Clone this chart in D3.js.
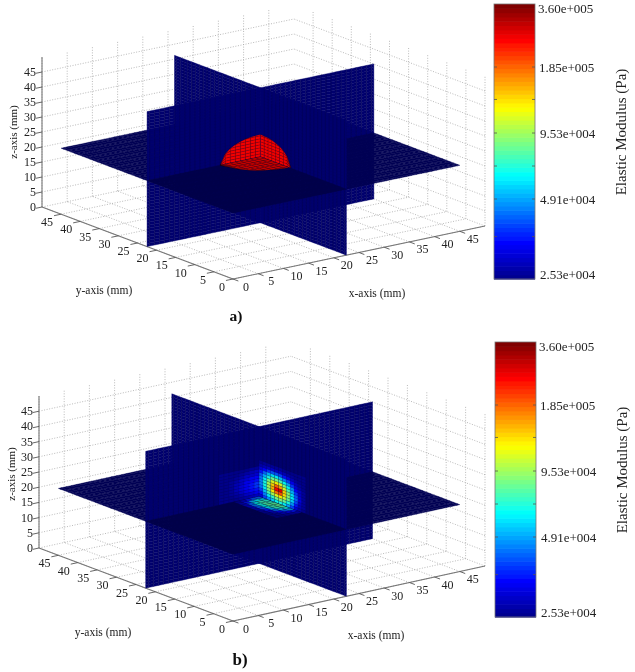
<!DOCTYPE html>
<html><head><meta charset="utf-8">
<script src="https://cdn.jsdelivr.net/npm/d3@7"></script>
<style>html,body{margin:0;padding:0;background:#fff}svg{display:block}text{font-family:"Liberation Serif",serif}</style>
</head><body><svg id="c" width="635" height="672"></svg>
<script>
// ---- chart values ----
const axisTicks = [0,5,10,15,20,25,30,35,40,45];
const axisMax = 50;
const sliceExtent = 45;          // mm
const sliceX = 22.5, sliceY = 22.5, sliceZ = 22;
const colorbarValues = [360000,185000,95300,49100,25300];
const colorbarLabels = ["3.60e+005","1.85e+005","9.53e+004","4.91e+004","2.53e+004"];
const backgroundKPa = 25.3;
const inclusionKPa = 258;
// panel a: half-height of the inclusion (mm) at each 1 mm offset from the centre
const domeProfile = [7.4,7.35,7.2,6.9,6.45,5.8,4.9,3.4,0];
// panel b: reconstructed modulus (kPa), 1 mm cells, rows top -> slice plane
const blobNearRight = [
 [26,27,27,27,27,27,26,26,26,26,26,26],
 [28,29,30,31,31,30,29,28,27,26,26,26],
 [32,36,40,44,44,42,38,33,29,27,26,26],
 [38,46,56,64,66,60,50,42,34,29,27,26],
 [44,58,74,90,94,84,70,54,40,32,28,26],
 [48,66,92,120,135,118,92,70,50,36,30,27],
 [50,72,104,150,200,170,118,84,58,40,31,27],
 [50,72,106,160,255,270,145,96,64,44,32,27],
 [48,68,98,135,190,205,140,98,66,46,33,27],
 [42,60,82,104,125,135,115,88,62,42,31,27],
 [38,50,66,80,92,96,88,72,52,38,29,27],
 [32,42,52,62,70,72,66,54,42,32,28,26]];
const blobNearLeft = [
 [27,27,26,26,26,26,26,26],
 [30,29,28,27,26,26,26,26],
 [32,31,30,28,27,26,26,26],
 [36,34,32,30,28,27,26,26],
 [38,36,34,31,29,27,26,26],
 [40,38,35,32,29,27,26,26],
 [40,38,35,32,29,27,26,26],
 [38,36,33,30,28,27,26,26],
 [34,32,30,28,27,26,26,26],
 [30,29,28,27,26,26,26,26]];
// rows: offset towards x = 0; columns: offset towards y = 0
const blobFloor = [
 [46,62,76,80,86,90,86,72,54,38,29],
 [44,68,80,84,86,84,78,62,46,34,28],
 [38,56,68,72,70,66,58,46,36,30,27],
 [30,38,46,48,46,42,37,32,29,27,26],
 [27,29,31,32,31,29,28,27,26,26,26]];

// ---- layout ----
const panels = [
 {id:"a", ox:233, oy:279, xRun:[252,-53], yRun:[-191,-72], zRise:150,
  bar:{x:494,w:41,top:4,bottom:279}, barY:[8,67,133,199,274],
  yLab:[104,291], xLab:[377,294], zLab:[13,132], tag:"a)", tagAt:[236,316], tagSize:15.5},
 {id:"b", ox:233, oy:621, xRun:[252,-55], yRun:[-194,-73], zRise:152,
  bar:{x:495,w:41,top:342,bottom:617}, barY:[346,405,471,537,612],
  yLab:[103,633], xLab:[376,636], zLab:[11,474], tag:"b)", tagAt:[240,660], tagSize:17}
];

const jet = d3.scaleLinear()
  .domain([0,0.125,0.375,0.625,0.875,1])
  .range(["#00008f","#0000ff","#00ffff","#ffff00","#ff0000","#800000"]).clamp(true);
const valueT = d3.scaleLog().domain([backgroundKPa,360]).range([0,1]).clamp(true);
const band = v => jet(Math.floor(valueT(v)*63.999)/63);
const shaded = (c,s) => d3.interpolateRgb("#000",c)(s);

const svg = d3.select("#c");
const defs = svg.append("defs");
defs.append("filter").attr("id","soft").attr("filterUnits","userSpaceOnUse").attr("x",0).attr("y",0)
  .attr("width",635).attr("height",672)
  .append("feGaussianBlur").attr("stdDeviation",0.7);
defs.append("filter").attr("id","softT").attr("filterUnits","userSpaceOnUse").attr("x",0).attr("y",0)
  .attr("width",635).attr("height",672)
  .append("feGaussianBlur").attr("stdDeviation",0.3);

panels.forEach(p => {
  const sxX = d3.scaleLinear().domain([0,axisMax]).range([0,p.xRun[0]]);
  const syX = d3.scaleLinear().domain([0,axisMax]).range([0,p.xRun[1]]);
  const sxY = d3.scaleLinear().domain([0,axisMax]).range([0,p.yRun[0]]);
  const syY = d3.scaleLinear().domain([0,axisMax]).range([0,p.yRun[1]]);
  const syZ = d3.scaleLinear().domain([0,axisMax]).range([0,-p.zRise]);
  const pr = (x,y,z) => [p.ox+sxX(x)+sxY(y), p.oy+syX(x)+syY(y)+syZ(z)];
  const line = d3.line();
  const root = svg.append("g").attr("filter","url(#soft)");

  // grid
  const grid = root.append("g").attr("fill","none").attr("stroke","#a8a8a8")
     .attr("stroke-width",0.8).attr("stroke-dasharray","1 1.6");
  const seg = (a,b)=>grid.append("path").attr("d",line([a,b]));
  axisTicks.forEach(t=>{
    seg(pr(t,0,0),pr(t,axisMax,0));
    seg(pr(0,t,0),pr(axisMax,t,0));
    seg(pr(t,axisMax,0),pr(t,axisMax,axisMax));
    seg(pr(axisMax,t,0),pr(axisMax,t,axisMax));
    seg(pr(0,axisMax,t),pr(axisMax,axisMax,t));
    seg(pr(axisMax,0,t),pr(axisMax,axisMax,t));
  });

  // axes
  const ax = root.append("g").attr("fill","none").attr("stroke","#777").attr("stroke-width",1.1);
  ax.append("path").attr("d",line([pr(0,0,0),pr(axisMax,0,0)]));
  ax.append("path").attr("d",line([pr(0,0,0),pr(0,axisMax,0)]));
  ax.append("path").attr("d",line([pr(0,axisMax,0),pr(0,axisMax,axisMax)]));
  const tk = root.append("g").attr("fill","none").attr("stroke","#555").attr("stroke-width",0.9);
  axisTicks.forEach(t=>{
    tk.append("path").attr("d",line([pr(t,0,0),pr(t,-1.4,0)]));
    tk.append("path").attr("d",line([pr(0,t,0),pr(-1.4,t,0)]));
    tk.append("path").attr("d",line([pr(0,axisMax,t),pr(-1.2,axisMax,t)]));
  });

  // slice pieces: a/b are offsets from the centre line of the slices
  const V=.76, HS=.58;
  const pieces = {
    p2FarLow:  {map:(a,b)=>[sliceX+a,sliceY,sliceZ-b], A:sliceExtent-sliceX, B:sliceZ, shade:V, wall:1},
    p1FarLow:  {map:(a,b)=>[sliceX,sliceY+a,sliceZ-b], A:sliceExtent-sliceY, B:sliceZ, shade:V, wall:1},
    hFar:      {map:(a,b)=>[sliceX+a,sliceY+b,sliceZ], A:sliceExtent-sliceX, B:sliceExtent-sliceY, shade:HS},
    p1FarHigh: {map:(a,b)=>[sliceX,sliceY+a,sliceZ+b], A:sliceExtent-sliceY, B:sliceExtent-sliceZ, shade:V, wall:1},
    p2FarHigh: {map:(a,b)=>[sliceX+a,sliceY,sliceZ+b], A:sliceExtent-sliceX, B:sliceExtent-sliceZ, shade:V, wall:1},
    hLeft:     {map:(a,b)=>[sliceX-a,sliceY+b,sliceZ], A:sliceX, B:sliceExtent-sliceY, shade:HS},
    hRight:    {map:(a,b)=>[sliceX+a,sliceY-b,sliceZ], A:sliceExtent-sliceX, B:sliceY, shade:HS},
    p2NearLow: {map:(a,b)=>[sliceX-a,sliceY,sliceZ-b], A:sliceX, B:sliceZ, shade:V, wall:1},
    p1NearLow: {map:(a,b)=>[sliceX,sliceY-a,sliceZ-b], A:sliceY, B:sliceZ, shade:V, wall:1},
    p2NearHigh:{map:(a,b)=>[sliceX-a,sliceY,sliceZ+b], A:sliceX, B:sliceExtent-sliceZ, shade:V, wall:1},
    p1NearHigh:{map:(a,b)=>[sliceX,sliceY-a,sliceZ+b], A:sliceY, B:sliceExtent-sliceZ, shade:V, wall:1},
    hNear:     {map:(a,b)=>[sliceX-a,sliceY-b,sliceZ], A:sliceX, B:sliceY, shade:.52}
  };
  const matrixCells = (m,bottomUp,rowIsA) => {
    const out=[]; const n=m.length;
    m.forEach((row,r)=>row.forEach((v,c)=>{
      const j = bottomUp ? n-1-r : r;
      out.push({v, q: rowIsA ? [[j,c],[j+1,c],[j+1,c+1],[j,c+1]] : [[c,j],[c+1,j],[c+1,j+1],[c,j+1]]});
    }));
    return out;
  };
  const domeCells = () => {
    const out=[];
    domeProfile.slice(0,-1).forEach((h0,i)=>{
      const h1=domeProfile[i+1], top=Math.max(h0,h1);
      for(let j=0;j<top;j++){
        out.push({v:inclusionKPa, q:[[i,Math.min(j,h0)],[i+1,Math.min(j,h1)],[i+1,Math.min(j+1,h1)],[i,Math.min(j+1,h0)]]});
      }
    });
    return out;
  };
  const overlays = p.id==="a"
    ? {p2NearHigh:domeCells(), p1NearHigh:domeCells(), hNear:domeCells()}
    : {p1NearHigh:matrixCells(blobNearRight,true,false), p2NearHigh:matrixCells(blobNearLeft,true,false), hNear:matrixCells(blobFloor,false,true)};

  const sl = root.append("g");
  Object.keys(pieces).forEach(k=>{
    const P=pieces[k];
    const cells=[];
    d3.range(0,P.A,1).forEach(a=>d3.range(0,P.B,1).forEach(b=>{
      const a1=Math.min(a+1,P.A), b1=Math.min(b+1,P.B);
      cells.push({v:backgroundKPa,q:[[a,b],[a1,b],[a1,b1],[a,b1]]});
    }));
    const toD = d => line(d.q.map(([a,b])=>pr(...P.map(a,b))))+"Z";
    const g = sl.append("g").attr("data-piece",k);
    const bgColor = shaded(band(backgroundKPa),P.shade);
    g.selectAll("path.bg").data(cells).join("path").attr("class","bg")
      .attr("d",toD).attr("fill",bgColor).attr("stroke",bgColor).attr("stroke-width",.4);
    if(P.wall){
      g.selectAll("path.col").data(d3.range(1,P.A,1)).join("path").attr("class","col")
        .attr("d",a=>line([pr(...P.map(a,0)),pr(...P.map(a,P.B))]))
        .attr("fill","none").attr("stroke","#000030").attr("stroke-opacity",.3).attr("stroke-width",.7);
    }
    const ov = overlays[k]||[];
    const darker = k==="hNear" ? .78 : .95;
    g.selectAll("path.ov").data(ov).join("path").attr("class","ov")
      .attr("d",toD).attr("fill",d=>shaded(band(d.v),darker))
      .attr("stroke","#000").attr("stroke-opacity",d=>d.v>=60?.28:.1).attr("stroke-width",.5);
  });

  // colour bar
  const cb = root.append("g");
  const bandY = d3.scaleLinear().domain([0,64]).range([p.bar.bottom,p.bar.top]);
  cb.selectAll("rect").data(d3.range(64)).join("rect")
    .attr("x",p.bar.x).attr("width",p.bar.w)
    .attr("y",i=>bandY(i+1)).attr("height",i=>bandY(i)-bandY(i+1)+.6)
    .attr("fill",i=>jet(i/63));
  cb.append("rect").attr("x",p.bar.x).attr("y",p.bar.top).attr("width",p.bar.w)
    .attr("height",p.bar.bottom-p.bar.top).attr("fill","none").attr("stroke","#777").attr("stroke-width",.8);
  const barScale = d3.scaleLog().domain(colorbarValues).range(p.barY);
  const barTicks = colorbarValues.slice(1,-1);
  const midTicks = [133500,68400,35200];
  barTicks.concat(midTicks).forEach(v=>{
    const y=barScale(v);
    cb.append("path").attr("d",line([[p.bar.x+p.bar.w-3,y],[p.bar.x+p.bar.w,y]])).attr("stroke","#555").attr("stroke-width",.8);
    cb.append("path").attr("d",line([[p.bar.x,y],[p.bar.x+3,y]])).attr("stroke","#555").attr("stroke-width",.8);
  });

  // text
  const tx = svg.append("g").attr("filter","url(#softT)").attr("fill","#222");
  axisTicks.forEach(t=>{
    const [yx,yy]=pr(0,t,0), [xx,xy]=pr(t,0,0), [zx,zy]=pr(0,axisMax,t);
    tx.append("text").attr("x",yx-8).attr("y",yy+12).attr("text-anchor","end").attr("font-size",12).text(t);
    tx.append("text").attr("x",xx+13).attr("y",xy+11.5).attr("text-anchor","middle").attr("font-size",12).text(t);
    tx.append("text").attr("x",zx-6).attr("y",zy+4).attr("text-anchor","end").attr("font-size",12).text(t);
  });
  tx.append("text").attr("x",p.yLab[0]).attr("y",p.yLab[1]+3).attr("text-anchor","middle").attr("font-size",11.5).text("y-axis (mm)");
  tx.append("text").attr("x",p.xLab[0]).attr("y",p.xLab[1]+3).attr("text-anchor","middle").attr("font-size",11.5).text("x-axis (mm)");
  tx.append("text").attr("transform",`translate(${p.zLab[0]+4},${p.zLab[1]}) rotate(-90)`).attr("text-anchor","middle").attr("font-size",11).text("z-axis (mm)");
  colorbarLabels.forEach((s,i)=>{
    tx.append("text").attr("x",p.bar.x+44+(i===0?0:i===1?1:2)).attr("y",p.barY[i]+4.5).attr("font-size",13).text(s);
  });
  tx.append("text").attr("transform",`translate(${p.bar.x+132},${p.bar.top+128}) rotate(-90)`).attr("text-anchor","middle").attr("font-size",15).text("Elastic Modulus (Pa)");
  tx.append("text").attr("x",p.tagAt[0]).attr("y",p.tagAt[1]+5).attr("text-anchor","middle").attr("font-weight","bold").attr("font-size",p.tagSize).attr("fill","#111").text(p.tag);
});
</script></body></html>
